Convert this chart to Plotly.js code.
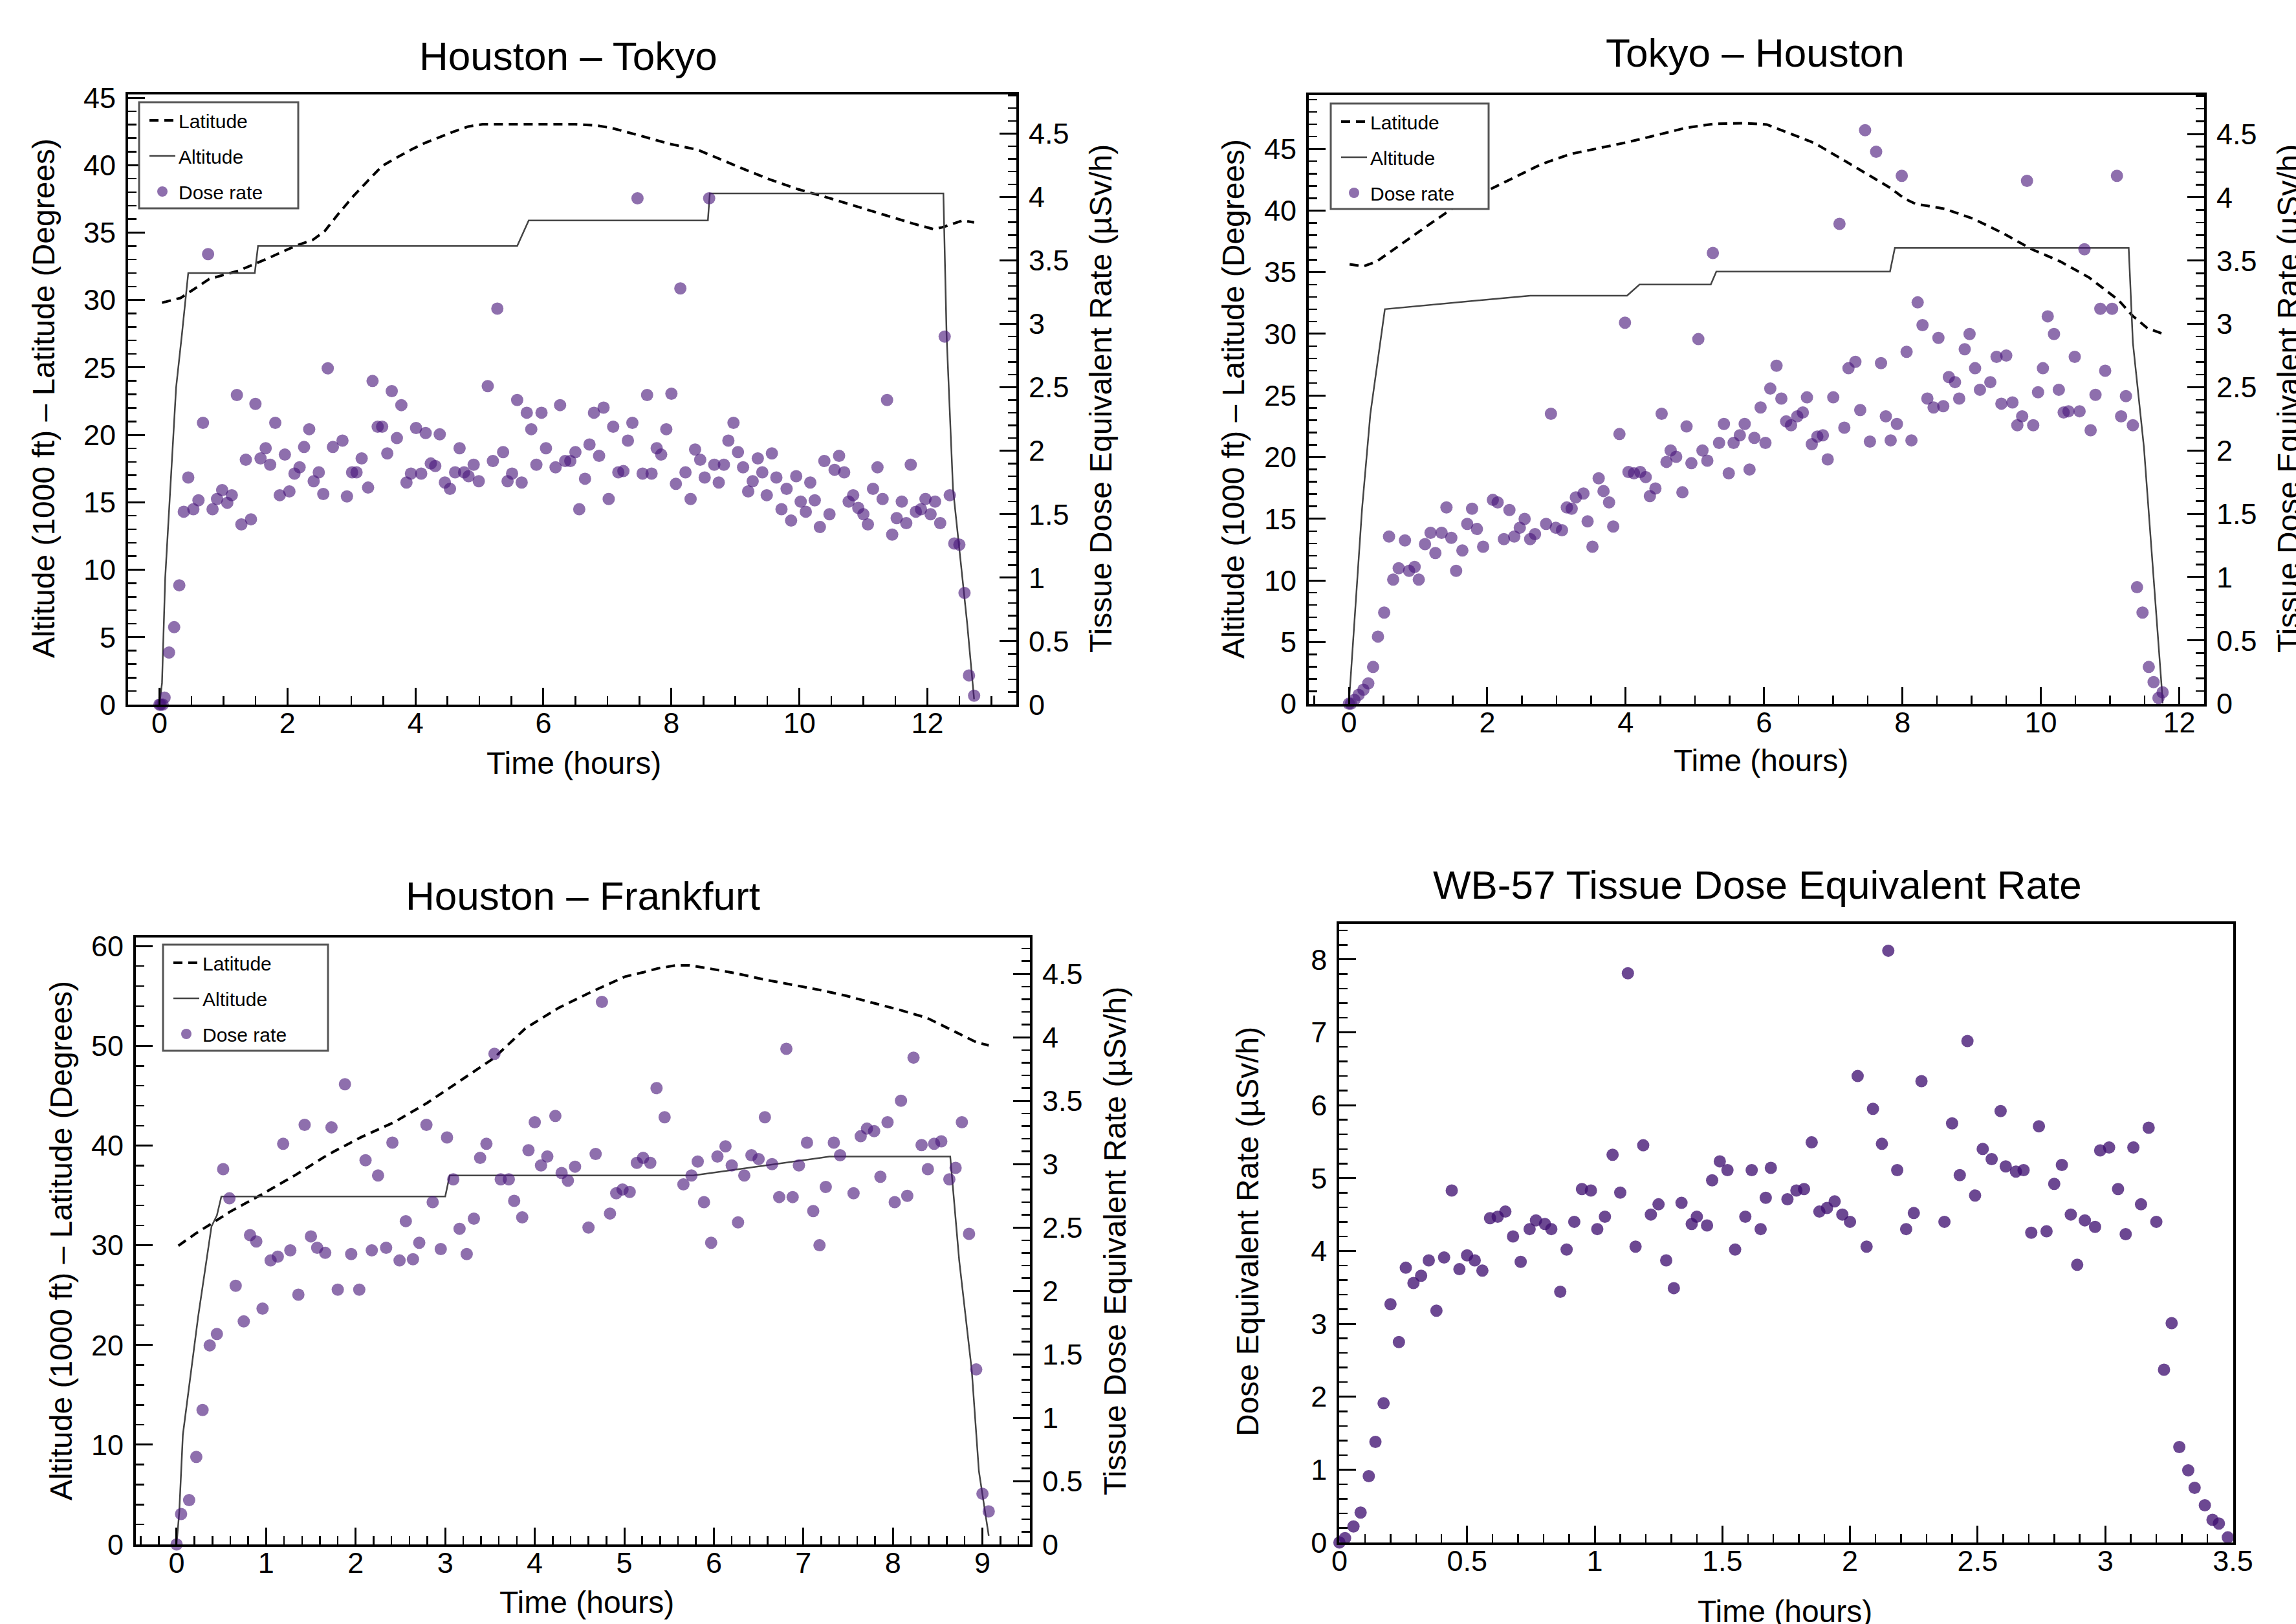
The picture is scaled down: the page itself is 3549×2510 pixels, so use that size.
<!DOCTYPE html>
<html>
<head>
<meta charset="utf-8">
<script src="https://cdn.plot.ly/plotly-3.0.1.min.js"></script>
<style>
html,body{margin:0;padding:0;background:#fff;}
#chart{width:3549px;height:2510px;}
</style>
</head>
<body>
<div id="chart"></div>
<script>
// ---------------- DATA ----------------
const panelTitles = ['Houston \u2013 Tokyo', 'Tokyo \u2013 Houston', 'Houston \u2013 Frankfurt', 'WB-57 Tissue Dose Equivalent Rate'];
const seriesNames = ['Latitude', 'Altitude', 'Dose rate'];
const xAxisTitle = 'Time (hours)';
const leftAxisTitle = 'Altitude (1000 ft) \u2013 Latitude (Degrees)';
const rightAxisTitle = 'Tissue Dose Equivalent Rate (\u00b5Sv/h)';
const wbAxisTitle = 'Dose Equivalent Rate (\u00b5Sv/h)';

// Houston - Tokyo
const htLatTime = [0.04,0.33,0.78,1.23,1.68,2.13,2.40,2.58,2.80,3.03,3.25,3.48,3.70,3.93,4.15,4.38,4.60,4.83,5.05,5.73,6.49,6.83,7.06,7.51,7.96,8.41,8.63,9.09,9.53,9.98,10.43,10.88,11.33,11.78,12.10,12.23,12.37,12.55,12.73];
const htLat = [29.8,30.15,31.56,32.16,33.06,34.02,34.47,35.09,36.41,37.70,38.81,39.94,40.54,41.14,41.65,42.10,42.49,42.87,43.03,43.03,43.03,42.94,42.76,42.19,41.59,41.14,40.69,39.79,38.95,38.21,37.61,36.95,36.29,35.66,35.25,35.39,35.60,35.90,35.75];
const htAltTime = [0,0.04,0.09,0.17,0.26,0.35,0.45,1.49,1.54,5.59,5.77,8.57,8.60,12.25,12.30,12.40,12.62,12.73];
const htAlt = [0,1.6,9.4,16.0,23.5,27.4,32.0,32.0,34.0,34.0,35.9,35.9,37.9,37.9,27.4,16.0,6.1,0.4];
const htDoseTime = [0,0.02,0.05,0.08,0.15,0.23,0.31,0.38,0.45,0.53,
0.61,0.68,0.76,0.83,0.90,0.98,1.06,1.13,1.21,1.28,
1.35,1.43,1.50,1.58,1.66,1.73,1.81,1.88,1.96,2.03,
2.11,2.19,2.26,2.34,2.41,2.49,2.56,2.63,2.71,2.86,
2.93,3.01,3.08,3.16,3.26,3.33,3.41,3.48,3.56,3.63,
3.71,3.78,3.86,3.93,4.01,4.09,4.16,4.24,4.31,4.38,
4.46,4.54,4.62,4.69,4.76,4.83,4.91,4.99,5.13,5.21,
5.28,5.37,5.44,5.51,5.59,5.66,5.74,5.81,5.89,5.97,
6.04,6.19,6.26,6.34,6.42,6.50,6.56,6.65,6.72,6.79,
6.87,6.94,7.02,7.09,7.17,7.25,7.32,7.39,7.47,7.55,
7.62,7.69,7.77,7.84,7.92,8.00,8.07,8.14,8.22,8.30,
8.37,8.45,8.52,8.59,8.67,8.74,8.82,8.89,8.97,9.04,
9.12,9.20,9.27,9.35,9.42,9.49,9.57,9.64,9.72,9.80,
9.87,9.95,10.02,10.10,10.17,10.24,10.32,10.39,10.47,10.55,
10.62,10.70,10.77,10.84,10.92,11.00,11.07,11.15,11.22,11.30,
11.37,11.45,11.52,11.60,11.67,11.74,11.82,11.90,11.97,12.05,
12.12,12.20,12.27,12.35,12.42,12.50,12.58,12.65,12.73];
const htDose = [0,0,0,0.055,0.41,0.61,0.94,1.52,1.79,1.54,
1.61,2.22,3.55,1.54,1.62,1.69,1.59,1.65,2.44,1.42,
1.93,1.46,2.37,1.94,2.02,1.89,2.22,1.65,1.97,1.68,
1.82,1.87,2.03,2.17,1.76,1.83,1.66,2.65,2.03,2.08,
1.64,1.83,1.83,1.94,1.71,2.55,2.19,2.19,1.98,2.47,
2.10,2.36,1.75,1.82,2.18,1.82,2.14,1.90,1.88,2.13,
1.75,1.70,1.83,2.02,1.83,1.80,1.89,1.76,2.51,1.92,
3.12,1.99,1.76,1.82,2.40,1.75,2.30,2.17,1.89,2.30,
2.02,1.87,2.36,1.92,1.92,1.99,1.54,1.78,2.05,2.30,
1.96,2.34,1.62,2.19,1.83,1.84,2.08,2.22,3.99,1.82,
2.44,1.82,2.02,1.97,2.17,2.45,1.74,3.28,1.83,1.62,
2.01,1.93,1.79,3.99,1.89,1.75,1.89,2.08,2.22,1.99,
1.87,1.68,1.76,1.94,1.83,1.65,1.98,1.79,1.54,1.70,
1.45,1.80,1.60,1.52,1.75,1.61,1.40,1.92,1.50,1.85,
1.96,1.83,1.60,1.65,1.55,1.50,1.42,1.70,1.87,1.62,
2.40,1.34,1.47,1.60,1.43,1.89,1.52,1.54,1.62,1.50,
1.60,1.43,2.90,1.65,1.27,1.26,0.88,0.23,0.07];

// Tokyo - Houston
const thLatTime = [0.01,0.21,0.40,0.70,1.11,1.53,1.95,2.37,2.78,3.20,3.62,4.04,4.45,4.87,5.29,5.71,6.04,6.31,6.73,7.15,7.57,7.82,8.03,8.19,8.61,9.03,9.45,9.87,10.28,10.70,11.12,11.33,11.54,11.75];
const thLat = [35.64,35.48,35.87,37.03,38.67,40.31,41.46,42.6,43.76,44.58,45.07,45.56,46.12,46.71,47.04,47.09,46.98,46.4,45.47,44.09,42.67,41.85,40.97,40.54,40.14,39.32,38.17,36.86,35.87,34.56,32.75,31.44,30.46,30.03];
const thAltTime = [0,0.14,0.19,0.31,0.39,0.52,2.62,4.02,4.20,5.23,5.31,7.82,7.89,11.27,11.33,11.49,11.75,11.76];
const thAlt = [0,11.35,15.8,23.5,26.8,32.0,33.1,33.1,34.0,34.0,35.05,35.05,36.96,36.96,29.3,20.8,1.06,0];
const thDoseTime = [0,0.03,0.08,0.14,0.21,0.28,0.35,0.42,0.51,0.58,
0.64,0.72,0.81,0.87,0.95,1.01,1.10,1.18,1.25,1.34,
1.41,1.48,1.55,1.64,1.71,1.78,1.85,1.94,2.08,2.15,
2.24,2.32,2.39,2.47,2.54,2.62,2.69,2.85,2.92,2.99,
3.08,3.15,3.22,3.28,3.39,3.45,3.52,3.61,3.68,3.76,
3.82,3.91,3.99,4.04,4.12,4.21,4.29,4.35,4.43,4.52,
4.59,4.65,4.73,4.82,4.88,4.95,5.05,5.11,5.18,5.26,
5.35,5.42,5.49,5.56,5.65,5.72,5.79,5.86,5.95,6.02,
6.09,6.18,6.25,6.32,6.39,6.48,6.56,6.62,6.69,6.77,
6.85,6.92,7.00,7.09,7.16,7.22,7.32,7.39,7.46,7.53,
7.62,7.69,7.76,7.83,7.92,7.99,8.06,8.13,8.22,8.29,
8.36,8.45,8.52,8.59,8.67,8.76,8.82,8.90,8.97,9.05,
9.12,9.27,9.36,9.43,9.50,9.59,9.66,9.73,9.80,9.89,
9.96,10.03,10.10,10.19,10.26,10.33,10.40,10.49,10.56,10.63,
10.72,10.79,10.86,10.93,11.03,11.10,11.16,11.23,11.33,11.39,
11.47,11.56,11.63,11.70,11.76];
const thDose = [0,0,0.03,0.07,0.11,0.16,0.29,0.53,0.72,1.32,
0.98,1.07,1.29,1.05,1.08,0.98,1.26,1.35,1.19,1.35,
1.55,1.31,1.05,1.21,1.42,1.54,1.38,1.24,1.61,1.59,
1.30,1.53,1.32,1.39,1.46,1.30,1.34,1.42,2.29,1.39,
1.37,1.55,1.54,1.63,1.66,1.44,1.24,1.78,1.68,1.59,
1.40,2.13,3.01,1.83,1.82,1.83,1.79,1.64,1.70,2.29,
1.91,2.00,1.95,1.67,2.19,1.90,2.88,2.00,1.92,3.56,
2.06,2.21,1.82,2.06,2.12,2.21,1.85,2.10,2.34,2.06,
2.49,2.67,2.41,2.23,2.20,2.27,2.30,2.42,2.05,2.11,
2.12,1.93,2.42,3.79,2.18,2.65,2.70,2.32,4.53,2.07,
4.36,2.69,2.27,2.08,2.21,4.17,2.78,2.08,3.17,2.99,
2.41,2.34,2.89,2.35,2.58,2.54,2.41,2.80,2.92,2.65,
2.48,2.54,2.74,2.37,2.75,2.38,2.20,2.27,4.13,2.20,
2.46,2.65,3.06,2.92,2.48,2.30,2.31,2.74,2.31,3.59,
2.16,2.44,3.12,2.63,3.12,4.17,2.27,2.43,2.20,0.92,
0.72,0.29,0.17,0.045,0.09];

// Houston - Frankfurt
const hfLatTime = [0.02,0.22,0.40,0.59,0.96,1.33,1.69,2.06,2.43,2.80,3.17,3.54,3.90,4.27,4.64,5.01,5.22,5.37,5.58,5.73,5.95,6.25,6.56,6.86,7.16,7.47,7.77,8.07,8.38,8.68,8.93,9.07];
const hfLat = [29.96,31.22,32.23,33.33,35.15,37.06,39.09,40.84,42.34,44.29,46.52,48.75,51.79,53.83,55.45,56.95,57.4,57.76,58.08,58.08,57.76,57.27,56.66,56.14,55.65,55.04,54.35,53.62,52.81,51.51,50.37,50.05];
const hfAltTime = [0,0.03,0.07,0.17,0.24,0.39,0.45,0.50,3.00,3.05,5.77,7.29,8.64,8.74,8.88,8.96,9.07];
const hfAlt = [0,3.3,11.0,17.9,22.8,31.9,33.0,34.9,34.9,37.0,37.0,38.9,38.9,28.5,17.5,7.35,0.86];
const hfDoseTime = [0,0.05,0.14,0.22,0.29,0.37,0.45,0.52,0.59,0.66,
0.75,0.82,0.89,0.96,1.05,1.13,1.19,1.27,1.36,1.43,
1.50,1.57,1.66,1.73,1.80,1.88,1.95,2.04,2.11,2.18,
2.25,2.34,2.41,2.49,2.56,2.64,2.71,2.79,2.86,2.95,
3.02,3.09,3.16,3.24,3.32,3.39,3.46,3.55,3.62,3.71,
3.77,3.86,3.93,4.00,4.07,4.14,4.23,4.30,4.37,4.45,
4.60,4.68,4.75,4.84,4.91,4.98,5.06,5.14,5.21,5.29,
5.36,5.45,5.66,5.75,5.82,5.89,5.97,6.04,6.13,6.20,
6.27,6.34,6.42,6.50,6.57,6.65,6.73,6.81,6.88,6.95,
7.04,7.11,7.18,7.25,7.34,7.41,7.56,7.64,7.71,7.79,
7.86,7.94,8.02,8.09,8.16,8.23,8.32,8.39,8.46,8.54,
8.63,8.70,8.77,8.85,8.93,9.00,9.07];
const hfDose = [0,0.24,0.35,0.69,1.06,1.57,1.66,2.96,2.73,2.04,
1.76,2.44,2.39,1.86,2.24,2.27,3.16,2.32,1.97,3.31,
2.43,2.34,2.30,3.29,2.01,3.63,2.29,2.01,3.03,2.32,
2.91,2.34,3.17,2.24,2.55,2.25,2.38,3.31,2.70,2.33,
3.21,2.88,2.49,2.29,2.57,3.05,3.16,3.87,2.88,2.88,
2.71,2.58,3.11,3.33,2.99,3.06,3.38,2.93,2.87,2.98,
2.50,3.08,4.28,2.61,2.77,2.80,2.78,3.01,3.05,3.01,
3.60,3.37,2.84,2.91,3.02,2.70,2.38,3.06,3.14,2.99,
2.54,2.91,3.07,3.04,3.37,3.00,2.74,3.91,2.74,2.99,
3.17,2.63,2.36,2.82,3.17,3.07,2.77,3.22,3.28,3.26,
2.90,3.33,2.70,3.50,2.75,3.84,3.15,2.96,3.16,3.18,
2.88,2.97,3.33,2.45,1.38,0.40,0.26];

// WB-57
const wbTime = [0,0.022,0.055,0.083,0.115,0.141,0.173,0.20,0.233,0.26,
0.29,0.32,0.35,0.38,0.41,0.44,0.47,0.50,0.53,0.56,
0.59,0.62,0.65,0.68,0.71,0.745,0.77,0.805,0.83,0.865,
0.89,0.92,0.95,0.985,1.01,1.04,1.07,1.10,1.13,1.16,
1.19,1.22,1.25,1.28,1.31,1.34,1.38,1.40,1.44,1.46,
1.49,1.52,1.55,1.59,1.615,1.65,1.67,1.69,1.755,1.79,
1.82,1.85,1.88,1.91,1.94,1.97,2.00,2.03,2.065,2.09,
2.125,2.15,2.185,2.22,2.25,2.28,2.37,2.40,2.43,2.46,
2.49,2.52,2.555,2.59,2.61,2.65,2.68,2.71,2.74,2.77,
2.80,2.83,2.865,2.89,2.92,2.96,2.98,3.015,3.05,3.08,
3.11,3.14,3.17,3.20,3.23,3.26,3.29,3.325,3.35,3.39,
3.42,3.445,3.48];
const wbDose = [0,0.06,0.22,0.41,0.91,1.38,1.91,3.27,2.75,3.77,
3.56,3.66,3.87,3.18,3.91,4.83,3.75,3.94,3.87,3.73,
4.45,4.47,4.54,4.20,3.85,4.30,4.42,4.37,4.30,3.44,
4.02,4.40,4.85,4.83,4.30,4.47,5.32,4.80,7.81,4.06,
5.45,4.50,4.64,3.87,3.49,4.66,4.37,4.47,4.35,4.97,
5.23,5.11,4.02,4.47,5.11,4.30,4.73,5.14,4.71,4.83,
4.85,5.49,4.54,4.59,4.68,4.50,4.40,6.40,4.06,5.95,
5.47,8.12,5.11,4.30,4.52,6.33,4.40,5.75,5.04,6.88,
4.76,5.40,5.26,5.92,5.16,5.09,5.11,4.25,5.71,4.27,
4.92,5.18,4.50,3.81,4.42,4.33,5.38,5.42,4.85,4.23,
5.42,4.64,5.69,4.40,2.37,3.01,1.31,0.99,0.75,0.51,
0.31,0.26,0.07];

// ---------------- STYLE / LAYOUT ----------------
const W = 3549, H = 2510;
const FONT = 'Liberation Sans, Arial, Helvetica, sans-serif';
const fx = px => px / W;
const fy = py => 1 - py / H;

const latLine = {color: '#000', width: 4, dash: '14px,9px'};
const altLine = {color: '#444', width: 2.5};
const doseMarker = {color: 'rgba(72,22,122,0.62)', size: 19, line: {width: 0}};
const wbMarker = {color: 'rgba(62,14,112,0.76)', size: 19, line: {width: 0}};

function flightTraces(latT, lat, altT, alt, doseT, dose, xa, ya, ya2, leg, key) {
  return [
    {x: latT, y: lat, xaxis: xa, yaxis: ya, type: 'scatter', mode: 'lines', name: seriesNames[0],
     line: latLine, legend: leg, legendgroup: key + 'lat', hoverinfo: 'skip'},
    {x: altT, y: alt, xaxis: xa, yaxis: ya, type: 'scatter', mode: 'lines', name: seriesNames[1],
     line: altLine, legend: leg, legendgroup: key + 'alt', hoverinfo: 'skip'},
    {x: doseT, y: dose, xaxis: xa, yaxis: ya2, type: 'scatter', mode: 'markers', name: seriesNames[2],
     marker: doseMarker, cliponaxis: false, legend: leg, legendgroup: key + 'dose', hoverinfo: 'skip'}
  ];
}

const traces = [].concat(
  flightTraces(htLatTime, htLat, htAltTime, htAlt, htDoseTime, htDose, 'x', 'y', 'y2', 'legend', 'ht'),
  flightTraces(thLatTime, thLat, thAltTime, thAlt, thDoseTime, thDose, 'x2', 'y3', 'y4', 'legend2', 'th'),
  flightTraces(hfLatTime, hfLat, hfAltTime, hfAlt, hfDoseTime, hfDose, 'x3', 'y5', 'y6', 'legend3', 'hf'),
  [{x: wbTime, y: wbDose, xaxis: 'x4', yaxis: 'y7', type: 'scatter', mode: 'markers', name: 'WB-57',
    marker: wbMarker, cliponaxis: false, showlegend: false, hoverinfo: 'skip'}]
);

function ax(extra, minorDtick) {
  return Object.assign({
    showline: true, linecolor: '#000', linewidth: 4,
    ticks: 'inside', ticklen: 26, tickwidth: 3, tickcolor: '#000',
    showgrid: false, zeroline: false, fixedrange: true, tick0: 0,
    ticklabelstandoff: 6,
    tickfont: {family: FONT, size: 45, color: '#000'},
    minor: {dtick: minorDtick, tick0: 0, ticks: 'inside', ticklen: 13, tickwidth: 2.5, tickcolor: '#000', showgrid: false}
  }, extra);
}

const legendBase = {
  xanchor: 'left', yanchor: 'top', bgcolor: 'rgba(0,0,0,0)', borderwidth: 0,
  font: {family: FONT, size: 30, color: '#000'}, itemwidth: 40, tracegroupgap: 13
};

function legendBox(x0, y0, x1, y1) {
  return {type: 'rect', xref: 'paper', yref: 'paper', x0: fx(x0), x1: fx(x1), y0: fy(y1), y1: fy(y0),
          fillcolor: '#fff', line: {color: '#555', width: 3}, layer: 'above'};
}

function textAnn(text, px, py, size, angle) {
  return {text: text, x: fx(px), y: fy(py), xref: 'paper', yref: 'paper', showarrow: false,
          xanchor: 'center', yanchor: 'middle', textangle: angle || 0,
          font: {family: FONT, size: size, color: '#000'}};
}

const layout = {
  width: W, height: H,
  margin: {l: 0, r: 0, t: 0, b: 0, pad: 0},
  paper_bgcolor: '#fff', plot_bgcolor: 'rgba(0,0,0,0)',
  font: {family: FONT, color: '#000'},
  showlegend: true,
  // Panel 1
  xaxis: ax({domain: [fx(198), fx(1571)], anchor: 'y', range: [-0.49, 13.39], dtick: 2, mirror: true, ticklabelstandoff: -14}, 0.5),
  yaxis: ax({domain: [fy(1089), fy(145.6)], anchor: 'x', range: [0, 45.26], dtick: 5}, 1),
  yaxis2: ax({overlaying: 'y', side: 'right', anchor: 'x', range: [0, 4.81], dtick: 0.5}, 0.1),
  // Panel 2
  xaxis2: ax({domain: [fx(2023), fx(3407)], anchor: 'y3', range: [-0.58, 12.36], dtick: 2, mirror: true, ticklabelstandoff: -14}, 0.5),
  yaxis3: ax({domain: [fy(1087.6), fy(146.5)], anchor: 'x2', range: [0, 49.39], dtick: 5}, 1),
  yaxis4: ax({overlaying: 'y3', side: 'right', anchor: 'x2', range: [0, 4.81], dtick: 0.5}, 0.1),
  // Panel 3
  xaxis3: ax({domain: [fx(210), fx(1592)], anchor: 'y5', range: [-0.455, 9.53], dtick: 1, mirror: true, ticklabelstandoff: -14}, 0.2),
  yaxis5: ax({domain: [fy(2387), fy(1448.5)], anchor: 'x3', range: [0, 60.9], dtick: 10}, 2),
  yaxis6: ax({overlaying: 'y5', side: 'right', anchor: 'x3', range: [0, 4.79], dtick: 0.5}, 0.1),
  // Panel 4
  xaxis4: ax({domain: [fx(2070.4), fx(3451.5)], anchor: 'y7', range: [0, 3.5], dtick: 0.5, mirror: true, ticklabelstandoff: -14}, 0.1),
  yaxis7: ax({domain: [fy(2384), fy(1427.7)], anchor: 'x4', range: [0, 8.49], dtick: 1, mirror: true}, 0.2),

  legend: Object.assign({x: fx(226), y: fy(160)}, legendBase),
  legend2: Object.assign({x: fx(2068), y: fy(162)}, legendBase),
  legend3: Object.assign({x: fx(263), y: fy(1462)}, legendBase),

  shapes: [
    legendBox(215, 158, 461, 322),
    legendBox(2057, 160, 2301, 323),
    legendBox(252, 1460, 507, 1624)
  ],

  annotations: [
    textAnn(panelTitles[0], 878, 86, 62),
    textAnn(panelTitles[1], 2713, 81, 62),
    textAnn(panelTitles[2], 901, 1385, 62),
    textAnn(panelTitles[3], 2716, 1367, 62),
    textAnn(xAxisTitle, 887, 1179, 48),
    textAnn(xAxisTitle, 2722, 1175, 48),
    textAnn(xAxisTitle, 907, 2476, 48),
    textAnn(xAxisTitle, 2759, 2490, 48),
    textAnn(leftAxisTitle, 68, 616, 48, -90),
    textAnn(rightAxisTitle, 1702, 616, 48, -90),
    textAnn(leftAxisTitle, 1907, 616, 48, -90),
    textAnn(rightAxisTitle, 3538, 616, 48, -90),
    textAnn(leftAxisTitle, 94, 1918, 48, -90),
    textAnn(rightAxisTitle, 1723, 1918, 48, -90),
    textAnn(wbAxisTitle, 1928, 1904, 48, -90)
  ]
};

Plotly.newPlot('chart', traces, layout, {staticPlot: true, displayModeBar: false, responsive: false});
</script>
</body>
</html>
